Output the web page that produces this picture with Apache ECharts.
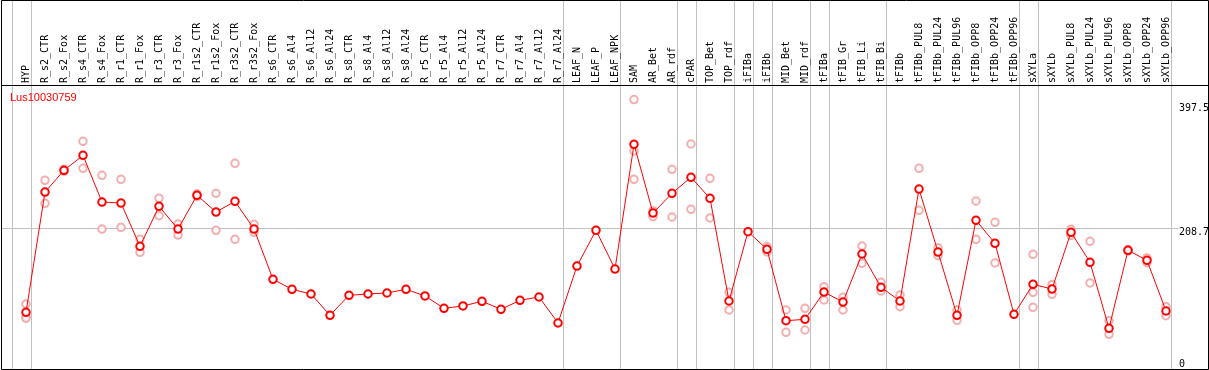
<!DOCTYPE html>
<html><head><meta charset="utf-8">
<script src="https://cdn.jsdelivr.net/npm/echarts@6/dist/echarts.min.js"></script>
<style>html,body{margin:0;padding:0;background:#fff}#c{width:1209px;height:370px}</style>
</head><body><div id="c"></div>
<script>
const categories = ['HYP','R_s2_CTR','R_s2_Fox','R_s4_CTR','R_s4_Fox','R_r1_CTR','R_r1_Fox','R_r3_CTR','R_r3_Fox','R_r1s2_CTR','R_r1s2_Fox','R_r3s2_CTR','R_r3s2_Fox','R_s6_CTR','R_s6_Al4','R_s6_Al12','R_s6_Al24','R_s8_CTR','R_s8_Al4','R_s8_Al12','R_s8_Al24','R_r5_CTR','R_r5_Al4','R_r5_Al12','R_r5_Al24','R_r7_CTR','R_r7_Al4','R_r7_Al12','R_r7_Al24','LEAF_N','LEAF_P','LEAF_NPK','SAM','AR_Bet','AR_rdf','cPAR','TOP_Bet','TOP_rdf','iFIBa','iFIBb','MID_Bet','MID_rdf','tFIBa','tFIB_Gr','tFIB_Li','tFIB_Bi','tFIBb','tFIBb_PUL8','tFIBb_PUL24','tFIBb_PUL96','tFIBb_OPP8','tFIBb_OPP24','tFIBb_OPP96','sXYLa','sXYLb','sXYLb_PUL8','sXYLb_PUL24','sXYLb_PUL96','sXYLb_OPP8','sXYLb_OPP24','sXYLb_OPP96'];
const meanValues = [84.8,261.6,293.5,315.5,246.9,245.4,181.8,240.6,207.2,256.8,232.2,247.9,207.2,133.3,118.6,111.7,80.4,109.8,111.7,113.2,118.6,108.8,90.7,94.1,101.0,89.2,102.4,107.3,69.1,152.8,205.3,148.4,331.7,230.7,259.7,283.2,252.3,101.4,203.3,177.4,72.5,74.5,114.6,99.9,170.5,121.5,101.4,266.0,173.4,80.4,220.0,186.2,81.9,126.0,119.0,202.4,158.3,61.3,175.9,161.2,86.7];
const rep1 = [97.0,278.8,295,336.1,286.2,280.3,192.1,252.3,214.6,259,259.7,303.8,214.1,null,null,null,null,null,null,null,null,null,null,null,null,null,null,null,null,null,null,null,397.5,234.1,295.0,332.2,281.7,114.2,null,181.2,88.2,90.7,122.4,106.8,182.2,128.9,110.2,296.4,179.7,88.2,248.4,217.1,null,170.0,125.4,206.8,189.1,72.5,177,164.7,93.0];
const rep2 = [78.3,245.0,292,296.4,207.2,209.7,173.0,226.8,198.4,254.7,205.3,192.1,202.4,null,null,null,null,null,null,null,null,null,null,null,null,null,null,null,null,null,null,null,321.9,225.3,224.9,236.2,223.4,88.2,null,173.6,55.4,58.8,102.9,88.2,156.8,116.1,93.0,234.7,168.0,73.0,192.1,157.3,null,114.2,111.3,198,127.9,52.5,175,157.7,79.8];
const rep3 = [76.0,null,null,null,null,null,null,null,null,null,null,null,null,null,null,null,null,null,null,null,null,null,null,null,null,null,null,null,null,null,null,null,280.3,null,null,null,null,null,null,null,null,null,null,null,null,null,null,null,null,null,null,null,null,92.2,null,null,null,null,null,null,null];
const yTickValues = [397.5, 208.7, 0];
const gridLineValue = 208.7;
const separatorAfter = [-1,0,28,31,34,35,37,38,39,41,42,45,52,53,60];
const geneName = 'Lus10030759';
const yMax = 418.9;

const chart = echarts.init(document.getElementById('c'), null, {renderer:'canvas'});
const repPoints = [];
[rep1, rep2, rep3].forEach(r => r.forEach((v, i) => { if (v != null) repPoints.push([i, v]); }));

chart.setOption({
  animation: false,
  grid: {left: 16.5, right: 33.5, top: 85, bottom: 0, containLabel: false},
  xAxis: {type: 'category', data: categories, position: 'top', boundaryGap: true,
    axisLine: {show: false}, axisTick: {show: false}, splitLine: {show: false},
    axisLabel: {interval: 0, rotate: 90, margin: 2, fontFamily: 'DejaVu Sans Mono', fontSize: 10, color: '#000'}},
  yAxis: {type: 'value', min: 0, max: yMax, show: false},
  series: [
    {type: 'scatter', data: repPoints, symbol: 'emptyCircle', symbolSize: 7.5, silent: true, z: 2,
      itemStyle: {color: '#f09a9a', borderWidth: 1}},
    {type: 'line', data: meanValues, symbol: 'emptyCircle', symbolSize: 7.5, showAllSymbol: true, z: 3, silent: true,
      lineStyle: {color: '#ff0000', width: 1}, itemStyle: {color: '#ff0000', borderWidth: 1.3}}
  ]
});

const x0 = chart.convertToPixel({xAxisIndex: 0}, 0);
const x1 = chart.convertToPixel({xAxisIndex: 0}, 1);
const step = x1 - x0;
const g = [];
separatorAfter.forEach(i => {
  const x = Math.round(x0 + step * i + 4.5) + 0.5;
  g.push({type: 'line', z: 0, silent: true, shape: {x1: x, y1: 0, x2: x, y2: 370}, style: {stroke: '#c0c0c0', lineWidth: 1}});
});
const yg = Math.round(chart.convertToPixel({yAxisIndex: 0}, gridLineValue)) + 0.5;
g.push({type: 'line', z: 0, silent: true, shape: {x1: 1, y1: yg, x2: 1178, y2: yg}, style: {stroke: '#c0c0c0', lineWidth: 1}});
const offsets = [3.5, -0.7, -11];
yTickValues.forEach((v, k) => {
  const y = chart.convertToPixel({yAxisIndex: 0}, v);
  g.push({type: 'text', z: 20, silent: true, x: 1179, y: y + offsets[k],
    style: {text: String(v), font: '10px "DejaVu Sans Mono"', fill: '#000', verticalAlign: 'top', align: 'left'}});
});
g.push({type: 'text', z: 20, silent: true, x: 10, y: 92,
  style: {text: geneName, font: '11px "Liberation Sans"', fill: '#ff0000', verticalAlign: 'top', align: 'left'}});
g.push({type: 'line', z: 20, silent: true, shape: {x1: 1, y1: 85.5, x2: 1209, y2: 85.5}, style: {stroke: '#000', lineWidth: 1}});
g.push({type: 'rect', z: 20, silent: true, shape: {x: 1.5, y: 0.5, width: 1207, height: 369}, style: {stroke: '#000', fill: 'none', lineWidth: 1}});
chart.setOption({graphic: {elements: g}});
</script></body></html>
